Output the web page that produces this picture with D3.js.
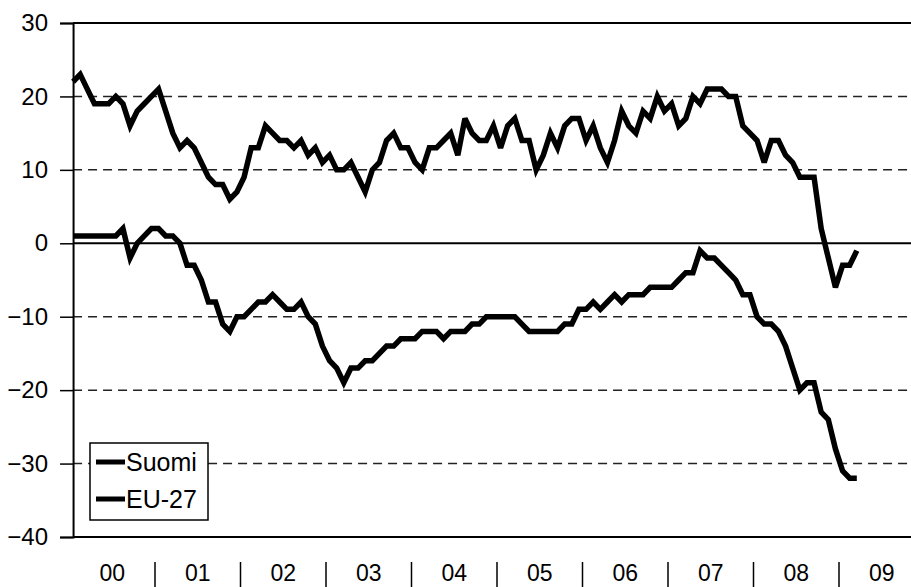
<!DOCTYPE html>
<html>
<head>
<meta charset="utf-8">
<script src="https://cdn.jsdelivr.net/npm/d3@7"></script>
<style>
  body { margin: 0; background: #fff; }
  svg { display: block; font-family: Arial, "Liberation Sans", sans-serif; }
</style>
</head>
<body>
<div id="chart"></div>
<script>
// year labels under the x axis, one per 12 months (Jan 2000 .. Mar 2009)
const yearLabels = ["00", "01", "02", "03", "04", "05", "06", "07", "08", "09"];
const yTicks = [30, 20, 10, 0, -10, -20, -30, -40];
const seriesNames = ["Suomi", "EU-27"];

// monthly balance figures
const suomi = [
  22, 23, 21, 19, 19, 19, 20, 19, 16, 18, 19, 20,
  21, 18, 15, 13, 14, 13, 11, 9, 8, 8, 6, 7,
  9, 13, 13, 16, 15, 14, 14, 13, 14, 12, 13, 11,
  12, 10, 10, 11, 9, 7, 10, 11, 14, 15, 13, 13,
  11, 10, 13, 13, 14, 15, 12, 17, 15, 14, 14, 16,
  13, 16, 17, 14, 14, 10, 12, 15, 13, 16, 17, 17,
  14, 16, 13, 11, 14, 18, 16, 15, 18, 17, 20, 18,
  19, 16, 17, 20, 19, 21, 21, 21, 20, 20, 16, 15,
  14, 11, 14, 14, 12, 11, 9, 9, 9, 2, -2, -6,
  -3, -3, -1
];
const eu27 = [
  1, 1, 1, 1, 1, 1, 1, 2, -2, 0, 1, 2,
  2, 1, 1, 0, -3, -3, -5, -8, -8, -11, -12, -10,
  -10, -9, -8, -8, -7, -8, -9, -9, -8, -10, -11, -14,
  -16, -17, -19, -17, -17, -16, -16, -15, -14, -14, -13, -13,
  -13, -12, -12, -12, -13, -12, -12, -12, -11, -11, -10, -10,
  -10, -10, -10, -11, -12, -12, -12, -12, -12, -11, -11, -9,
  -9, -8, -9, -8, -7, -8, -7, -7, -7, -6, -6, -6,
  -6, -5, -4, -4, -1, -2, -2, -3, -4, -5, -7, -7,
  -10, -11, -11, -12, -14, -17, -20, -19, -19, -23, -24, -28,
  -31, -32, -32
];

const W = 911, H = 587;
const svg = d3.select("#chart").append("svg")
  .attr("width", W)
  .attr("height", H);

// month index -> x ; each year is a 12-month band
const x = d3.scaleLinear()
  .domain([-0.5, 119.5])
  .range([69.5, 924.5]);

const y = d3.scaleLinear()
  .domain([-40, 30])
  .range([537, 23]);

const left = x(0), right = W + 5;

// dashed gridlines
svg.append("g")
  .selectAll("line")
  .data(yTicks.filter(d => d !== 0 && d !== 30 && d !== -40))
  .join("line")
  .attr("x1", left).attr("x2", right)
  .attr("y1", d => y(d)).attr("y2", d => y(d))
  .attr("stroke", "#222")
  .attr("stroke-width", 1.5)
  .attr("stroke-dasharray", "9,6");

// solid lines: top border, zero line, bottom axis
svg.append("g")
  .selectAll("line")
  .data([30, 0, -40])
  .join("line")
  .attr("x1", left).attr("x2", right)
  .attr("y1", d => y(d)).attr("y2", d => y(d))
  .attr("stroke", "#000")
  .attr("stroke-width", 2);

// y axis
const yAxis = svg.append("g")
  .attr("transform", `translate(${left},0)`)
  .call(d3.axisLeft(y).tickValues(yTicks).tickSize(13).tickPadding(12).tickFormat(d3.format("d")));
yAxis.select(".domain").attr("stroke", "#000").attr("stroke-width", 2);
yAxis.selectAll(".tick line").attr("stroke", "#000").attr("stroke-width", 1.5);
yAxis.selectAll(".tick text")
  .style("font-size", "24px")
  .style("font-family", "Arial, 'Liberation Sans', sans-serif")
  .attr("fill", "#000");

// year labels and the separators between them
svg.append("g")
  .selectAll("text")
  .data(yearLabels)
  .join("text")
  .attr("x", (d, i) => x(i * 12 + 5.5))
  .attr("y", 581)
  .attr("text-anchor", "middle")
  .style("font-size", "23px")
  .text(d => d);

svg.append("g")
  .selectAll("line")
  .data(yearLabels.slice(1))
  .join("line")
  .attr("x1", (d, i) => x((i + 1) * 12 - 0.5))
  .attr("x2", (d, i) => x((i + 1) * 12 - 0.5))
  .attr("y1", 562).attr("y2", 588)
  .attr("stroke", "#000")
  .attr("stroke-width", 1.5);

// the two series
const line = d3.line()
  .x((d, i) => x(i))
  .y(d => y(d));

svg.append("g")
  .selectAll("path")
  .data([suomi, eu27])
  .join("path")
  .attr("d", line)
  .attr("fill", "none")
  .attr("stroke", "#000")
  .attr("stroke-width", 5.5)
  .attr("stroke-linejoin", "miter")
  .attr("stroke-miterlimit", 3);

// legend
const legend = svg.append("g");
legend.append("rect")
  .attr("x", 90).attr("y", 443)
  .attr("width", 118).attr("height", 77)
  .attr("fill", "#fff")
  .attr("stroke", "#000")
  .attr("stroke-width", 1.5);

legend.selectAll("line")
  .data(seriesNames)
  .join("line")
  .attr("x1", 96).attr("x2", 125)
  .attr("y1", (d, i) => 462 + i * 37)
  .attr("y2", (d, i) => 462 + i * 37)
  .attr("stroke", "#000")
  .attr("stroke-width", 5);

legend.selectAll("text")
  .data(seriesNames)
  .join("text")
  .attr("x", 126)
  .attr("y", (d, i) => 462 + i * 37)
  .attr("dy", "0.35em")
  .style("font-size", "25px")
  .text(d => d);
</script>
</body>
</html>
